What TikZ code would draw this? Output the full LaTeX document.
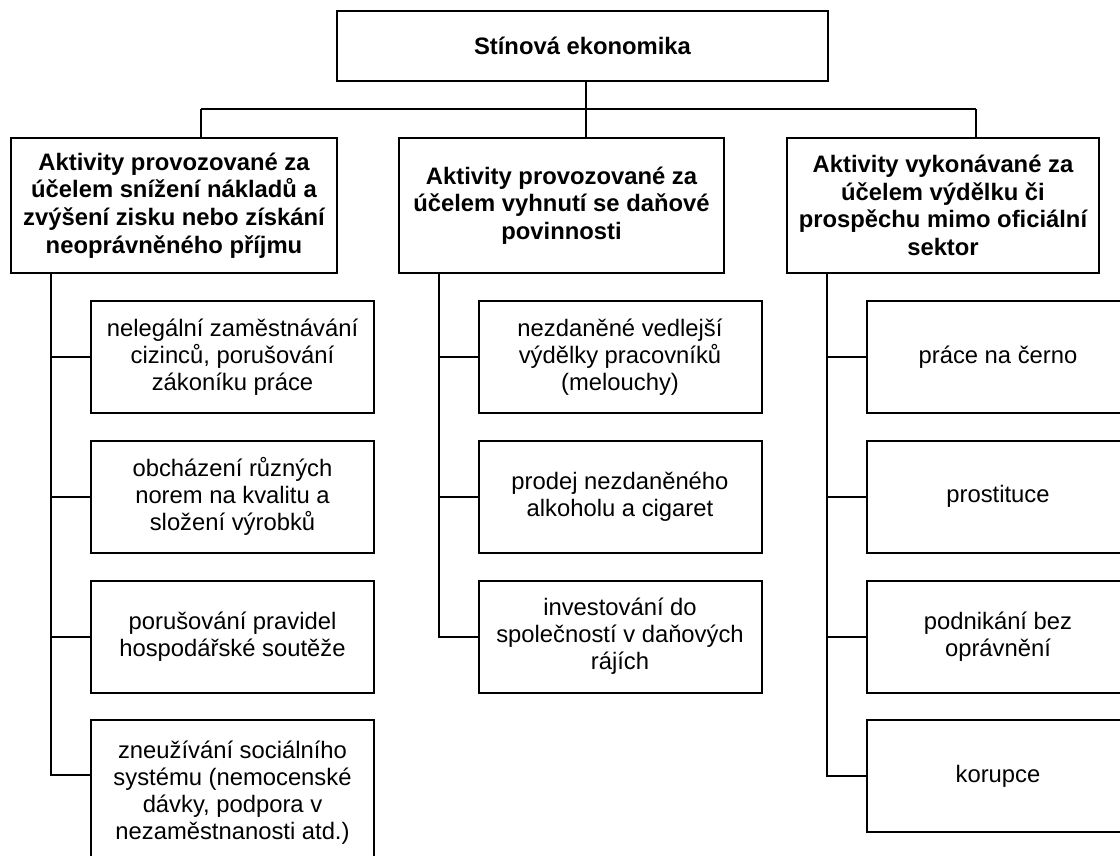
\documentclass[tikz,border=0pt]{standalone}
\usepackage{fontspec}
\setmainfont{Liberation Sans}
\begin{document}
\begin{tikzpicture}[x=1pt,y=-1pt,
  box/.style={draw, line width=2pt, inner sep=0pt, align=center,
    font=\fontsize{23.8}{27}\selectfont},
  head/.style={box, font=\bfseries\fontsize{23.8}{27.7}\selectfont},
  conn/.style={line width=2pt},
  child/.style={box, minimum width=283pt, minimum height=112pt},
  rchild/.style={box, minimum width=262pt, minimum height=112pt}]
\useasboundingbox (0,0) rectangle (1120,856);
\clip (0,0) rectangle (1120,856);
% top
\node[head, minimum width=491pt, minimum height=70pt] (T) at (582.5,46) {Stínová ekonomika};
% columns
\node[head, minimum width=326pt, minimum height=135pt] (L) at (174,205.5)
  {Aktivity provozované za\\účelem snížení nákladů a\\zvýšení zisku nebo získání\\neoprávněného příjmu};
\node[head, minimum width=325pt, minimum height=135pt] (M) at (561.5,205.5)
  {Aktivity provozované za\\účelem vyhnutí se daňové\\povinnosti};
\node[head, minimum width=312pt, minimum height=135pt] (R) at (943,205.5)
  {Aktivity vykonávané za\\účelem výdělku či\\prospěchu mimo oficiální\\sektor};
% left children
\node[child] (L1) at (232.5,357) {nelegální zaměstnávání\\cizinců, porušování\\zákoníku práce};
\node[child] (L2) at (232.5,496.5) {obcházení různých\\norem na kvalitu a\\složení výrobků};
\node[child] (L3) at (232.5,636.5) {porušování pravidel\\hospodářské soutěže};
\node[child, minimum height=145pt] (L4) at (232.5,792.5) {zneužívání sociálního\\systému (nemocenské\\dávky, podpora v\\nezaměstnanosti atd.)};
% middle children
\node[child] (M1) at (620,357) {nezdaněné vedlejší\\výdělky pracovníků\\(melouchy)};
\node[child] (M2) at (620,496.5) {prodej nezdaněného\\alkoholu a cigaret};
\node[child] (M3) at (620,636.5) {investování do\\společností v daňových\\rájích};
% right children
\node[rchild] (R1) at (998,357) {práce na černo};
\node[rchild] (R2) at (998,496.5) {prostituce};
\node[rchild] (R3) at (998,636.5) {podnikání bez\\oprávnění};
\node[rchild] (R4) at (998,776) {korupce};
% bus
\coordinate (B1) at (201,109);
\coordinate (B2) at (586,109);
\coordinate (B3) at (976,109);
\coordinate (Lt) at (51,0);
\coordinate (Mt) at (439,0);
\coordinate (Rt) at (827,0);
\draw[conn] (T.south -| B2) -- (B2);
\draw[conn] (B1) -- (B3);
\draw[conn] (B1) -- (B1 |- L.north);
\draw[conn] (B2) -- (B2 |- M.north);
\draw[conn] (B3) -- (B3 |- R.north);
% left trunk
\draw[conn] (L.south -| Lt) |- ([yshift=17.5pt]L4.west);
\foreach \n in {L1,L2,L3} \draw[conn] (\n.west) -- (\n.west -| Lt);
% middle trunk
\draw[conn] (M.south -| Mt) |- (M3.west);
\foreach \n in {M1,M2} \draw[conn] (\n.west) -- (\n.west -| Mt);
% right trunk
\draw[conn] (R.south -| Rt) |- (R4.west);
\foreach \n in {R1,R2,R3} \draw[conn] (\n.west) -- (\n.west -| Rt);
\end{tikzpicture}
\end{document}
